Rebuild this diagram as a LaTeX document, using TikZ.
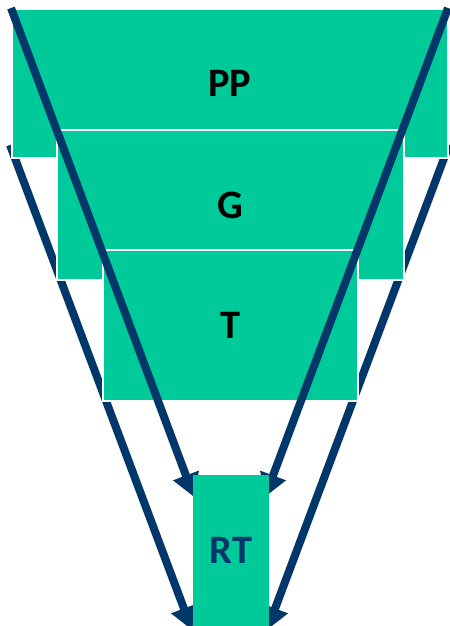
\documentclass[tikz,border=0pt]{standalone}
\usepackage{fontspec}
\setmainfont{Carlito}
\usepackage{xcolor}
\usepackage{tikz}
\definecolor{layercolor}{RGB}{0, 201, 154}
\definecolor{arrowcolor}{RGB}{2, 55, 105}
\usetikzlibrary{arrows.meta, positioning}

\begin{document}
\begin{tikzpicture}[
    x=0.02cm, y=-0.02cm,
    layer/.style={rectangle, fill=layercolor, draw=white, line width=0.85pt, inner sep=0pt,
                  font=\fontsize{23}{27}\selectfont\bfseries},
    arrow/.style={-{Triangle[length=0.46cm, width=0.52cm]}, line width=0.16cm, draw=arrowcolor}
]
    \clip (0,0) rectangle (450,626);

    % Coordinates for the arrows
    \coordinate (outerL) at (10,145);
    \coordinate (outerR) at (449,145);
    \coordinate (innerL) at (11,8);
    \coordinate (innerR) at (448,8);

    % Outer arrows (behind the layers)
    \coordinate (tipOL) at (192,630);
    \coordinate (tipOR) at (267,630);
    \draw[arrow] (outerL) -- (tipOL);
    \draw[arrow] (outerR) -- (tipOR);

    % Layers
    \node[layer, minimum width=8.72cm, minimum height=2.98cm] (pp) at (230,83.5) {PP};
    \node[layer, minimum width=6.94cm, minimum height=3.0cm] (g) at (230.5,205) {G};
    \node[layer, minimum width=5.1cm, minimum height=3.02cm] (t) at (230.5,325.5) {T};

    % Inner arrows
    \coordinate (tipIL) at (194,497);
    \coordinate (tipIR) at (265,497);
    \draw[arrow] (innerL) -- (tipIL);
    \draw[arrow] (innerR) -- (tipIR);

    % Result
    \node[layer, draw=none, minimum width=1.52cm, minimum height=3.02cm, text=arrowcolor] (rt) at (231,550.5) {RT};
\end{tikzpicture}
\end{document}
